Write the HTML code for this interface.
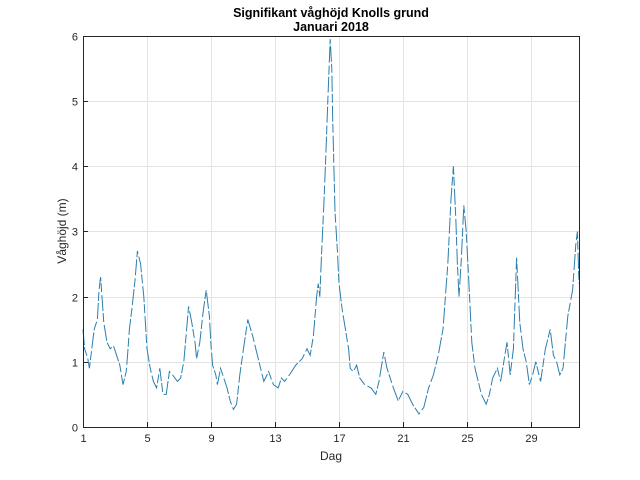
<!DOCTYPE html>
<html><head><meta charset="utf-8"><style>
body{margin:0;background:#fff;}
svg{display:block;font-family:"Liberation Sans",Arial,sans-serif;}
</style></head><body>
<svg id="s" width="640" height="480" xmlns="http://www.w3.org/2000/svg">
<rect width="640" height="480" fill="#fff"/>
<g id="grid" stroke="#e3e3e3" stroke-width="1"></g>
<path id="p" fill="none" stroke="#2a7fad" stroke-width="1" stroke-dasharray="16 2 9 3"/>
<rect x="83.5" y="36.5" width="496" height="391" fill="none" stroke="#262626" stroke-width="1"/>
<g id="ticks" font-size="11" fill="#262626"></g>
<text x="331" y="17" text-anchor="middle" font-size="12.5" font-weight="bold" fill="#000">Signifikant våghöjd Knolls grund</text>
<text x="331" y="31" text-anchor="middle" font-size="12.5" font-weight="bold" fill="#000">Januari 2018</text>
<text x="331" y="460" text-anchor="middle" font-size="12" fill="#262626">Dag</text>
<text transform="translate(66,231) rotate(-90)" text-anchor="middle" font-size="12" fill="#262626">Våghöjd (m)</text>
</svg>
<script>
var X=function(d){return 83+(d-1)*16;},Y=function(v){return 427-v*65.17;};
var g=document.getElementById('grid'),t=document.getElementById('ticks'),ns='http://www.w3.org/2000/svg';
function el(p,n,a,txt){var e=document.createElementNS(ns,n);for(var k in a)e.setAttribute(k,a[k]);if(txt!=null)e.textContent=txt;p.appendChild(e);}
[1,5,9,13,17,21,25,29].forEach(function(d){var x=X(d)+.5;el(g,'line',{x1:x,x2:x,y1:36,y2:427});el(t,'line',{x1:x,x2:x,y1:427,y2:422,stroke:'#262626'});el(t,'text',{x:x,y:442,'text-anchor':'middle'},d);});
for(var v=0;v<=6;v++){var y=Math.round(Y(v))+.5;el(g,'line',{x1:83,x2:579,y1:y,y2:y});el(t,'line',{x1:83,x2:88,y1:y,y2:y,stroke:'#262626'});el(t,'text',{x:78,y:y+4,'text-anchor':'end'},v);}
var d=[1,1.5,1.1,1.2,1.3,1.05,1.4,.9,1.5,1.1,1.7,1.5,1.9,1.65,2,2.1,2.1,2.3,2.3,1.6,2.5,1.3,2.7,1.2,2.9,1.25,3.1,1.1,3.3,.95,3.5,.65,3.7,.85,3.8,1.15,3.9,1.5,4.05,1.8,4.25,2.25,4.4,2.7,4.6,2.5,4.8,2,5,1.2,5.2,.9,5.4,.7,5.6,.6,5.8,.9,6,.5,6.2,.5,6.4,.85,6.6,.8,6.9,.7,7.1,.75,7.3,1,7.6,1.85,7.8,1.6,8,1.3,8.1,1.05,8.3,1.3,8.5,1.75,8.7,2.1,8.9,1.7,9,1.25,9.1,.95,9.3,.8,9.4,.65,9.6,.9,9.8,.75,10,.6,10.2,.4,10.4,.27,10.6,.35,10.8,.8,11,1.15,11.3,1.65,11.6,1.4,11.9,1.1,12.1,.9,12.3,.7,12.6,.85,12.9,.65,13.2,.6,13.4,.75,13.6,.7,13.9,.8,14.3,.95,14.7,1.05,15,1.2,15.2,1.1,15.4,1.4,15.6,2,15.7,2.2,15.8,2,15.9,2.6,16.05,3.4,16.15,4,16.3,5,16.45,5.95,16.55,5.5,16.6,4.8,16.75,3.3,16.9,2.7,17,2.2,17.2,1.8,17.4,1.5,17.6,1.2,17.7,.9,17.9,.85,18.1,.95,18.3,.75,18.6,.65,19,.6,19.3,.5,19.5,.7,19.8,1.15,20,.9,20.4,.6,20.7,.4,21,.55,21.3,.5,21.6,.35,22,.2,22.3,.3,22.6,.6,22.9,.8,23.2,1.1,23.5,1.5,23.8,2.5,24,3.5,24.15,4,24.3,3.2,24.4,2.5,24.5,2,24.65,2.6,24.8,3.4,24.95,3,25.1,2.3,25.2,1.8,25.3,1.3,25.5,.9,25.7,.7,25.9,.5,26.2,.35,26.4,.5,26.6,.75,26.9,.9,27.1,.7,27.3,1,27.5,1.3,27.7,.8,27.9,1.2,28.1,2.6,28.3,1.6,28.5,1.2,28.7,1,28.9,.65,29.1,.8,29.3,1,29.6,.7,29.9,1.2,30.2,1.5,30.4,1.1,30.6,1,30.8,.8,31,.9,31.3,1.7,31.6,2.1,31.8,2.8,31.9,3,32,2.2];
var s='';for(var i=0;i<d.length;i+=2)s+=(i?'L':'M')+X(d[i]).toFixed(1)+','+Y(d[i+1]).toFixed(1);
document.getElementById('p').setAttribute('d',s);
</script>
</body></html>
